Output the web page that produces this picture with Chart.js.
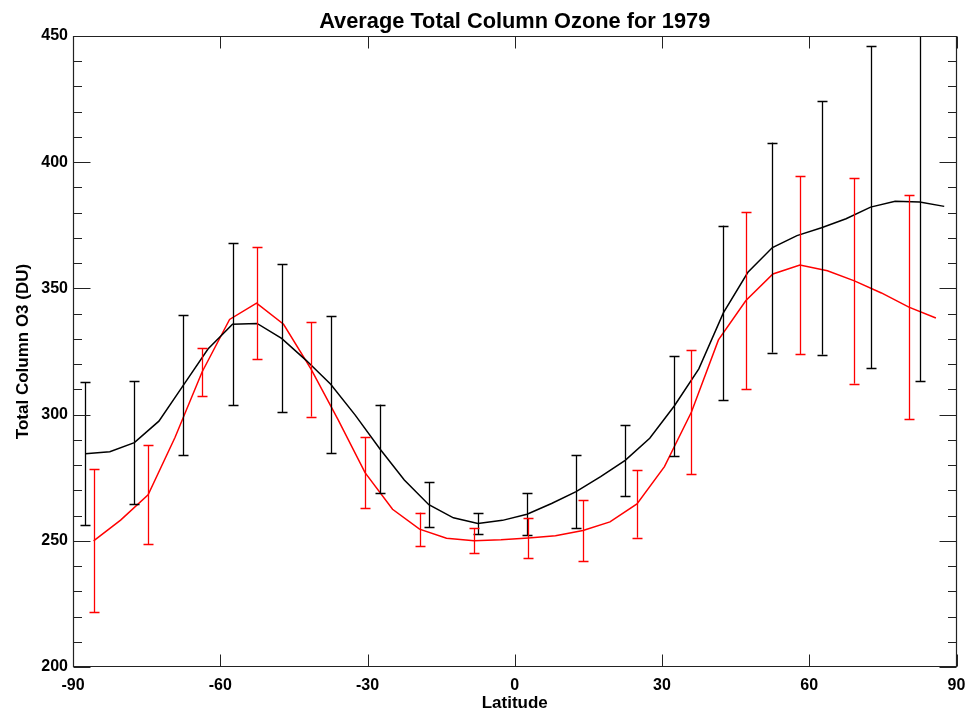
<!DOCTYPE html>
<html>
<head>
<meta charset="utf-8">
<script src="https://cdn.jsdelivr.net/npm/chart.js@4.4.1/dist/chart.umd.min.js"></script>
<style>
  html, body { margin: 0; padding: 0; background: #ffffff; }
  #wrap { width: 967px; height: 710px; }
</style>
</head>
<body>
<div id="wrap"><canvas id="c" width="967" height="710"></canvas></div>
<script>
// ---- Data ----
const chartTitle = 'Average Total Column Ozone for 1979';
const xTitle = 'Latitude';
const yTitle = 'Total Column O3 (DU)';

const xTickValues = [-90, -60, -30, 0, 30, 60, 90];
const yTickValues = [200, 250, 300, 350, 400, 450];

// Black series (5-degree bins)
const blackLat = [-87.5, -82.5, -77.5, -72.5, -67.5, -62.5, -57.5, -52.5, -47.5, -42.5,
                  -37.5, -32.5, -27.5, -22.5, -17.5, -12.5, -7.5, -2.5, 2.5, 7.5,
                  12.5, 17.5, 22.5, 27.5, 32.5, 37.5, 42.5, 47.5, 52.5, 57.5,
                  62.5, 67.5, 72.5, 77.5, 82.5, 87.5];
const blackMean = [284.5, 285.3, 288.9, 297.4, 311.7, 326.0, 335.8, 336.1, 330.2, 321.5,
                   312.0, 299.8, 286.5, 274.1, 264.3, 259.1, 256.9, 258.1, 260.5, 264.8,
                   269.5, 275.4, 281.9, 290.6, 303.4, 318.1, 340.3, 356.4, 366.2, 370.9,
                   374.0, 377.6, 382.2, 384.5, 384.2, 382.5];
const blackErr = [28.3, null, 24.4, null, 27.6, null, 32.1, null, 29.3, null,
                  27.2, null, 17.5, null, 8.9, null, 4.2, null, 8.4, null,
                  14.6, null, 14.1, null, 19.9, null, 34.6, null, 41.6, null,
                  50.2, null, 63.8, null, 70.9, null];

// Red series
const redLat = [-85.8, -80.3, -74.7, -69.2, -63.7, -58.1, -52.6, -47.1, -41.5, -36.0,
                -30.5, -24.9, -19.4, -13.9, -8.3, -2.8, 2.8, 8.3, 13.9, 19.4,
                24.9, 30.5, 36.0, 41.5, 47.1, 52.6, 58.1, 63.7, 69.2, 74.7,
                80.3, 85.8];
const redMean = [250.0, 258.2, 268.2, 291.0, 316.9, 337.7, 344.2, 335.8, 318.0, 298.0,
                 277.0, 262.5, 254.6, 251.0, 250.0, 250.4, 251.1, 252.0, 254.1, 257.5,
                 264.6, 279.4, 301.0, 329.6, 345.2, 355.7, 359.3, 357.0, 353.0, 348.2,
                 342.6, 338.3];
const redErr = [28.3, null, 19.6, null, 9.5, null, 22.1, null, 18.8, null,
                14.0, null, 6.6, null, 4.9, null, 7.8, null, 12.0, null,
                13.3, null, 24.7, null, 35.0, null, 35.3, null, 40.7, null,
                44.4, null];

// ---- Build datasets ----
function pts(lat, val) { return lat.map((x, i) => ({ x: x, y: val[i] })); }

const FONT = "'Liberation Sans', Arial, Helvetica, sans-serif";

const errorBarPlugin = {
  id: 'errorBars',
  afterDatasetsDraw(chart) {
    const ctx = chart.ctx;
    const xs = chart.scales.x, ys = chart.scales.y;
    const area = chart.chartArea;
    ctx.save();
    ctx.beginPath();
    ctx.rect(area.left, area.top, area.right - area.left, area.bottom - area.top);
    ctx.clip();
    chart.data.datasets.forEach((ds) => {
      if (!ds.errLat) return;
      ctx.strokeStyle = ds.borderColor;
      ctx.lineWidth = 1.3;
      ds.errLat.forEach((lat, j) => {
        const e = ds.errVal[j];
        if (e === null || e === undefined) return;
        const m = ds.errMean[j];
        const px = Math.round(xs.getPixelForValue(lat)) + 0.5;
        const yt = ys.getPixelForValue(m + e);
        const yb = ys.getPixelForValue(m - e);
        const cap = 5;
        ctx.beginPath();
        ctx.moveTo(px, yt); ctx.lineTo(px, yb);
        ctx.moveTo(px - cap, Math.round(yt) + 0.5); ctx.lineTo(px + cap, Math.round(yt) + 0.5);
        ctx.moveTo(px - cap, Math.round(yb) + 0.5); ctx.lineTo(px + cap, Math.round(yb) + 0.5);
        ctx.stroke();
      });
    });
    ctx.restore();
  }
};

// Frame, inward ticks and the main title (centred over the plot area, as in the reference)
const framePlugin = {
  id: 'frameTicks',
  afterDraw(chart) {
    const ctx = chart.ctx;
    const xs = chart.scales.x, ys = chart.scales.y;
    const a = chart.chartArea;
    const L = Math.round(a.left) + 0.5, R = Math.round(a.right) - 0.5;
    const T = Math.round(a.top) + 0.5, B = Math.round(a.bottom) - 0.5;
    ctx.save();
    ctx.strokeStyle = '#222222';
    ctx.lineWidth = 1.2;
    ctx.beginPath();
    ctx.rect(L, T, R - L, B - T);
    ctx.stroke();
    ctx.lineWidth = 1;
    ctx.beginPath();
    xTickValues.forEach(v => {
      const px = Math.round(xs.getPixelForValue(v)) + 0.5;
      ctx.moveTo(px, B); ctx.lineTo(px, B - 12);
      ctx.moveTo(px, T); ctx.lineTo(px, T + 12);
    });
    for (let v = 200; v <= 450; v += 10) {
      const py = Math.round(ys.getPixelForValue(v)) + 0.5;
      const len = (v % 50 === 0) ? 17 : 8.5;
      ctx.moveTo(L, py); ctx.lineTo(L + len, py);
      ctx.moveTo(R, py); ctx.lineTo(R - len, py);
    }
    ctx.stroke();

    // main title
    ctx.fillStyle = '#000000';
    ctx.font = 'bold 21.8px ' + FONT;
    ctx.textAlign = 'center';
    ctx.textBaseline = 'alphabetic';
    ctx.fillText(chartTitle, (a.left + a.right) / 2, 27.5);
    ctx.restore();
  }
};

const chart = new Chart(document.getElementById('c'), {
  type: 'line',
  data: {
    datasets: [
      {
        label: 'black',
        data: pts(blackLat, blackMean),
        borderColor: '#000000',
        backgroundColor: '#000000',
        borderWidth: 1.5,
        pointRadius: 0,
        tension: 0,
        fill: false,
        errLat: blackLat, errMean: blackMean, errVal: blackErr
      },
      {
        label: 'red',
        data: pts(redLat, redMean),
        borderColor: '#ff0000',
        backgroundColor: '#ff0000',
        borderWidth: 1.5,
        pointRadius: 0,
        tension: 0,
        fill: false,
        errLat: redLat, errMean: redMean, errVal: redErr
      }
    ]
  },
  options: {
    responsive: false,
    animation: false,
    devicePixelRatio: 1,
    layout: { padding: { left: 0, right: 10.5, top: 36, bottom: 0 } },
    plugins: {
      legend: { display: false },
      tooltip: { enabled: false },
      title: { display: false, text: chartTitle }
    },
    scales: {
      x: {
        type: 'linear',
        min: -90, max: 90,
        afterBuildTicks: (s) => { s.ticks = xTickValues.map(v => ({ value: v })); },
        afterFit: (s) => { s.height = 43; s.paddingLeft = 0; s.paddingRight = 0; },
        grid: { display: false, drawTicks: false },
        border: { display: false },
        ticks: {
          color: '#000000',
          padding: 9,
          maxRotation: 0,
          font: { family: FONT, size: 16, weight: 'bold' }
        },
        title: {
          display: true,
          text: xTitle,
          color: '#000000',
          font: { family: FONT, size: 17, weight: 'bold', lineHeight: 0.8 },
          padding: { top: 0, bottom: 0 }
        }
      },
      y: {
        type: 'linear',
        min: 200, max: 450,
        afterBuildTicks: (s) => { s.ticks = yTickValues.map(v => ({ value: v })); },
        afterFit: (s) => { s.width = 73; s.paddingTop = 0; s.paddingBottom = 0; },
        grid: { display: false, drawTicks: false },
        border: { display: false },
        ticks: {
          color: '#000000',
          padding: 5,
          font: { family: FONT, size: 16, weight: 'bold' }
        },
        title: {
          display: true,
          text: yTitle,
          color: '#000000',
          font: { family: FONT, size: 17, weight: 'bold', lineHeight: 1.2 },
          padding: { top: 13, bottom: 0 }
        }
      }
    }
  },
  plugins: [errorBarPlugin, framePlugin]
});
</script>
</body>
</html>
